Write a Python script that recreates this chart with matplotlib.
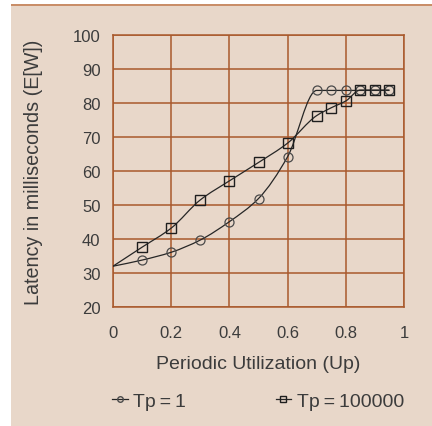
import numpy as np
import matplotlib
matplotlib.use("Agg")
import matplotlib.pyplot as plt
from matplotlib.path import Path
from matplotlib.patches import PathPatch, Rectangle
from matplotlib.lines import Line2D

plt.rcParams['font.family'] = ['Liberation Sans', 'DejaVu Sans']

# data
util_tp1 = [0.0, 0.1, 0.2, 0.3, 0.4, 0.5, 0.6, 0.7, 0.75, 0.8, 0.85, 0.9, 0.95]
lat_tp1 = [32.0, 33.8, 36.1, 39.7, 45.1, 51.9, 64.2, 83.7, 83.7, 83.7, 83.7, 83.7, 83.7]

util_tp100k = [0.0, 0.1, 0.2, 0.3, 0.4, 0.5, 0.6, 0.7, 0.75, 0.8, 0.85, 0.9, 0.95]
lat_tp100k = [32.0, 37.6, 43.2, 51.5, 57.1, 62.5, 68.2, 76.3, 78.6, 80.6, 83.8, 83.8, 83.8]

x_ticks = [0, 0.2, 0.4, 0.6, 0.8, 1]
x_labels = ['0', '0.2', '0.4', '0.6', '0.8', '1']
y_ticks = [20, 30, 40, 50, 60, 70, 80, 90, 100]

BG = '#e8d7c9'
GRID = '#a9592c'
TXT = '#3c3c3c'
LINE = '#262626'


def smooth_path(x, y):
    # monotone cubic through the points, written as bezier segments
    x = np.asarray(x, float)
    y = np.asarray(y, float)
    n = len(x)
    h = np.diff(x)
    d = np.diff(y) / h
    m = np.zeros(n)
    m[0] = d[0]
    m[-1] = d[-1]
    for k in range(1, n - 1):
        if d[k - 1] * d[k] <= 0:
            m[k] = 0.0
        else:
            w1 = 2 * h[k] + h[k - 1]
            w2 = h[k] + 2 * h[k - 1]
            m[k] = (w1 + w2) / (w1 / d[k - 1] + w2 / d[k])
    verts = [(x[0], y[0])]
    codes = [Path.MOVETO]
    for k in range(n - 1):
        verts += [(x[k] + h[k] / 3, y[k] + m[k] * h[k] / 3),
                  (x[k + 1] - h[k] / 3, y[k + 1] - m[k + 1] * h[k] / 3),
                  (x[k + 1], y[k + 1])]
        codes += [Path.CURVE4] * 3
    return Path(verts, codes)


fig = plt.figure(figsize=(4.32, 4.27), dpi=100, facecolor='white')
fig.patches.append(Rectangle((11 / 432, 0), 1 - 11 / 432, 421 / 427,
                             transform=fig.transFigure, facecolor=BG,
                             edgecolor='none', zorder=-2))
fig.patches.append(Rectangle((11 / 432, 420.5 / 427), 1 - 11 / 427, 2 / 427,
                             transform=fig.transFigure, facecolor='#c98e68',
                             edgecolor='none', zorder=-1))

ax = fig.add_axes([113 / 432, 119 / 427, 291 / 432, 272 / 427])
ax.set_facecolor(BG)
ax.set_xlim(0, 1)
ax.set_ylim(20, 100)
ax.set_xticks(x_ticks)
ax.set_xticklabels(x_labels)
ax.set_yticks(y_ticks)
ax.grid(True, color=GRID, linewidth=1.1)
ax.set_axisbelow(True)
for s in ax.spines.values():
    s.set_color(GRID)
    s.set_linewidth(1.1)
ax.tick_params(length=0, labelsize=12, labelcolor=TXT)
ax.tick_params(axis='x', pad=13)
ax.tick_params(axis='y', pad=9)

ax.add_patch(PathPatch(smooth_path(util_tp1, lat_tp1), facecolor='none',
                       edgecolor=LINE, linewidth=0.9, zorder=3))
ax.add_patch(PathPatch(smooth_path(util_tp100k, lat_tp100k), facecolor='none',
                       edgecolor=LINE, linewidth=0.9, zorder=3))

ax.plot(util_tp1[1:], lat_tp1[1:], linestyle='none', marker='o', markersize=6.5,
        markerfacecolor='none', markeredgecolor='#4a4a4a', markeredgewidth=0.9,
        zorder=4)
ax.plot(util_tp100k[1:], lat_tp100k[1:], linestyle='none', marker='s',
        markersize=6.5, markerfacecolor='none', markeredgecolor='#1e1e1e',
        markeredgewidth=1.0, zorder=5)

ax.set_ylabel('Latency in milliseconds (E[W])', fontsize=14.2, color=TXT)
ax.yaxis.set_label_coords(-0.24, 0.5)
fig.text(258 / 432, 1 - 365 / 427, 'Periodic Utilization (Up)', fontsize=14,
         color=TXT, ha='center', va='center')

handles = [Line2D([], [], color=LINE, linewidth=0.9, marker='o', markersize=4,
                  markerfacecolor='none', markeredgecolor='#4a4a4a'),
           Line2D([], [], color=LINE, linewidth=0.9, marker='s', markersize=4,
                  markerfacecolor='none', markeredgecolor='#1e1e1e')]
fig.legend(handles, ['Tp\u2009=\u20091', 'Tp\u2009=\u2009100000'], ncol=2,
           loc='center left', bbox_to_anchor=(112 / 432, 1 - 402 / 427),
           frameon=False, fontsize=14, handlelength=0.8, handletextpad=0.3,
           columnspacing=4.6, borderpad=0, borderaxespad=0, labelcolor=TXT)

fig.savefig('out.png', dpi=100, facecolor='white')
